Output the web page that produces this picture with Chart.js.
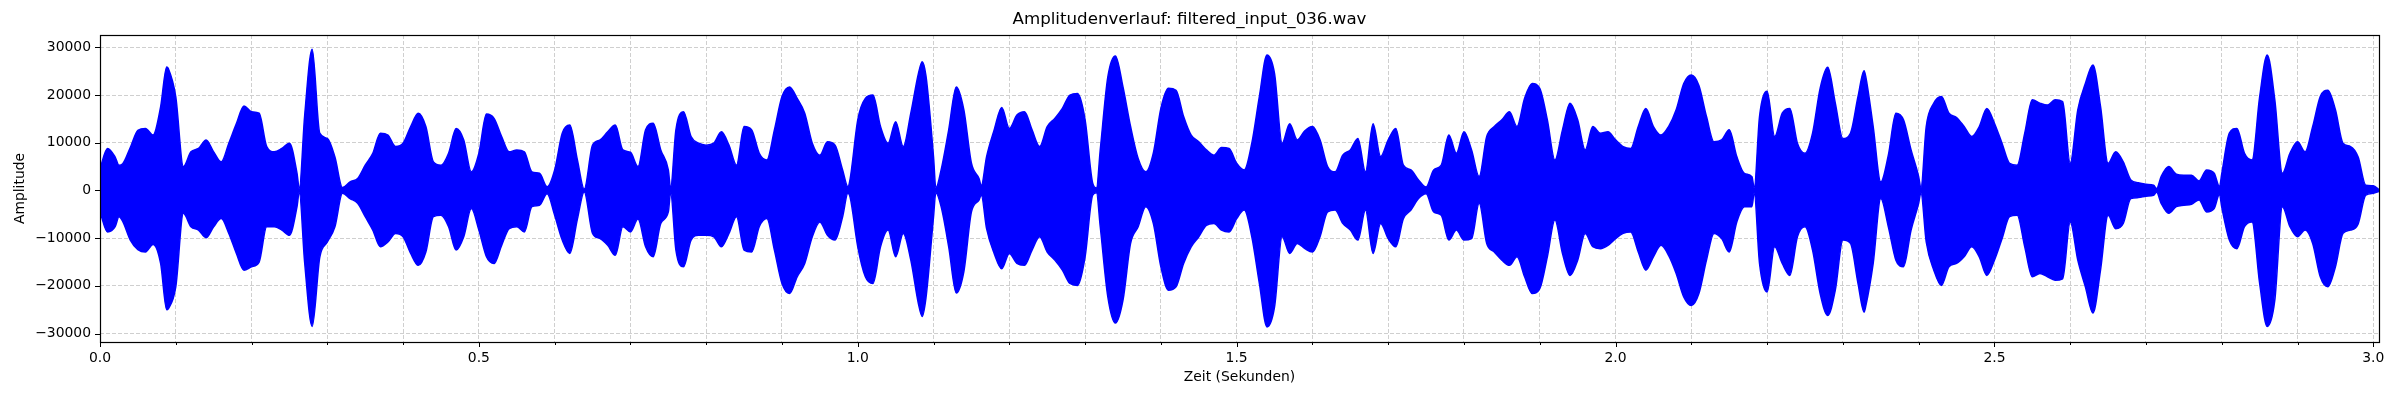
<!DOCTYPE html>
<html>

<head>
    <title>Amplitudenverlauf</title>
    <meta charset="utf-8">
    <script src="https://cdn.jsdelivr.net/npm/chart.js"></script>
    <style>
        html, body { margin: 0; padding: 0; background: #fff; }
        #wrap { width: 2400px; height: 400px; position: relative; }
    </style>
    <script>
        // Huellkurve (oberer und unterer Rand) des Signals
        var timeSec = [
            0, 0.01, 0.02, 0.025, 0.03, 0.04, 0.05, 0.06, 0.07, 0.08, 0.088, 0.09,
            0.10, 0.11, 0.12, 0.13, 0.14, 0.15, 0.16, 0.17, 0.18, 0.19,
            0.20, 0.21, 0.22, 0.23, 0.24, 0.25, 0.26, 0.263, 0.27, 0.28, 0.29,
            0.30, 0.31, 0.32, 0.33, 0.34, 0.35, 0.36, 0.37, 0.38, 0.39,
            0.40, 0.41, 0.42, 0.43, 0.44, 0.45, 0.46, 0.47, 0.48, 0.49,
            0.50, 0.51, 0.52, 0.53, 0.54, 0.55, 0.56, 0.57, 0.58, 0.59,
            0.60, 0.61, 0.62, 0.63, 0.639, 0.65, 0.66, 0.67, 0.68, 0.69,
            0.70, 0.71, 0.72, 0.73, 0.74, 0.75, 0.753, 0.76, 0.77, 0.78, 0.79,
            0.80, 0.81, 0.82, 0.83, 0.84, 0.85, 0.86, 0.87, 0.88, 0.89,
            0.90, 0.91, 0.92, 0.93, 0.94, 0.95, 0.96, 0.97, 0.98, 0.987, 0.99,
            1.00, 1.01, 1.02, 1.03, 1.04, 1.05, 1.06, 1.07, 1.08, 1.085, 1.09,
            1.10, 1.103, 1.11, 1.12, 1.13, 1.14, 1.15, 1.16, 1.163, 1.17, 1.18, 1.19,
            1.20, 1.21, 1.22, 1.23, 1.24, 1.25, 1.26, 1.27, 1.28, 1.29,
            1.30, 1.31, 1.315, 1.32, 1.33, 1.34, 1.35, 1.36, 1.37, 1.38, 1.39,
            1.40, 1.41, 1.42, 1.43, 1.44, 1.45, 1.46, 1.47, 1.48, 1.49,
            1.50, 1.51, 1.52, 1.53, 1.54, 1.55, 1.56, 1.57, 1.58, 1.59,
            1.60, 1.61, 1.62, 1.63, 1.64, 1.65, 1.66, 1.67, 1.68, 1.69,
            1.70, 1.71, 1.72, 1.73, 1.74, 1.75, 1.76, 1.77, 1.78, 1.79,
            1.80, 1.81, 1.82, 1.83, 1.84, 1.85, 1.86, 1.87, 1.88, 1.89,
            1.90, 1.91, 1.92, 1.93, 1.94, 1.95, 1.96, 1.97, 1.98, 1.99,
            2.00, 2.01, 2.02, 2.03, 2.04, 2.05, 2.06, 2.07, 2.08, 2.09,
            2.10, 2.11, 2.12, 2.13, 2.14, 2.15, 2.16, 2.17, 2.18, 2.183, 2.19,
            2.20, 2.21, 2.22, 2.23, 2.24, 2.25, 2.26, 2.27, 2.28, 2.29,
            2.30, 2.31, 2.32, 2.328, 2.33, 2.34, 2.35, 2.36, 2.37, 2.38, 2.39,
            2.40, 2.403, 2.41, 2.42, 2.43, 2.44, 2.45, 2.46, 2.47, 2.48, 2.49,
            2.50, 2.51, 2.52, 2.53, 2.54, 2.55, 2.56, 2.57, 2.58, 2.59,
            2.60, 2.61, 2.62, 2.63, 2.64, 2.65, 2.66, 2.67, 2.68, 2.69,
            2.70, 2.71, 2.714, 2.72, 2.73, 2.74, 2.75, 2.76, 2.77, 2.78, 2.79, 2.797,
            2.80, 2.81, 2.82, 2.83, 2.84, 2.85, 2.86, 2.87, 2.88, 2.89,
            2.90, 2.91, 2.92, 2.93, 2.94, 2.95, 2.96, 2.97, 2.98, 2.99, 3.00, 3.0075
        ];

        var upperEnv = [
            4600, 8800, 7000, 5300, 5600, 9000, 12600, 13000, 11600, 17500, 25900, 25600,
            19600, 5000, 8100, 8800, 10600, 8100, 6000, 9900, 14000, 17700,
            16500, 16200, 9200, 8100, 8800, 9900, 3600, 300, 15500, 29600, 12000,
            10900, 7000, 600, 1800, 2500, 5300, 7800, 12000, 11600, 9200,
            9900, 13400, 16200, 13400, 6000, 5300, 7800, 13000, 10600, 3900,
            7800, 16000, 15100, 11300, 8100, 8500, 8100, 3900, 3600, 800,
            4300, 12000, 13700, 6400, 300, 9500, 10600, 12300, 13700, 8500,
            8000, 5000, 12700, 14100, 8500, 4300, 500, 12700, 16500, 11300, 9900,
            9500, 9900, 12300, 9500, 5300, 13400, 12700, 7800, 6400, 12700,
            19700, 21700, 19300, 16200, 9900, 7400, 10200, 9500, 4300, 800, 2500,
            14800, 19300, 20000, 13400, 9900, 14400, 9200, 16200, 24500, 27000, 24000,
            7000, 500, 4300, 12700, 21700, 16900, 5700, 2500, 1000, 7100, 12700, 17400,
            13000, 15800, 16500, 12700, 9200, 13400, 15100, 17200, 20000, 20300,
            14800, 1500, 500, 8500, 23800, 28200, 21700, 13400, 6700, 3900, 7800,
            17200, 21400, 21000, 15500, 11600, 10200, 8500, 7400, 9000, 8800,
            5700, 4300, 9900, 19700, 28400, 24500, 9900, 14000, 10600, 12500,
            13400, 10600, 5000, 3900, 7400, 8500, 10900, 3900, 14000, 7100,
            10600, 13000, 5300, 4300, 2200, 700, 4300, 5300, 11600, 7800,
            12300, 8500, 2900, 11300, 13400, 14800, 16500, 13400, 19300, 22400,
            21400, 14800, 6400, 12700, 18300, 14800, 8500, 13400, 12000, 12300,
            10600, 9200, 8800, 13400, 17200, 13400, 11600, 13400, 16900, 22400,
            24200, 22000, 15500, 10200, 10600, 12700, 7100, 3600, 2900, 500, 15500,
            20800, 11300, 16200, 17200, 9900, 7800, 12000, 21400, 25800, 18300,
            10900, 12000, 19700, 25100, 24000, 13400, 1800, 7400, 16200, 14800, 8500,
            2900, 500, 13400, 18300, 19700, 16200, 15300, 13400, 11300, 13400, 17200,
            14100, 9900, 5700, 5300, 12000, 19000, 18300, 17900, 19000, 18600,
            5700, 16900, 22400, 26300, 17600, 5700, 8100, 6000, 2200, 1600,
            1300, 1100, 400, 2900, 5000, 3400, 3200, 3200, 2000, 4300, 3600, 800,
            3500, 12000, 13000, 7800, 6400, 19600, 28400, 19000, 3600, 7800,
            10200, 8100, 13400, 19700, 21000, 16900, 9900, 9200, 7000, 1100, 1000, 200
        ];

        var lowerEnv = [
            -4500, -8700, -7600, -5500, -6500, -10400, -12400, -12900, -11300, -15300, -25000, -24800,
            -20200, -4800, -7600, -8300, -9900, -7600, -5900, -9000, -13200, -16700,
            -16000, -15000, -7600, -7600, -8300, -9400, -3400, -300, -15000, -28500, -14000,
            -10800, -7600, -600, -1700, -2700, -5500, -8300, -11800, -10800, -9000,
            -9700, -13200, -15700, -12900, -5500, -5200, -7600, -12500, -9700, -3800,
            -8300, -13900, -15300, -11500, -8000, -7600, -8700, -3400, -3100, -700,
            -5200, -10400, -13200, -6000, -300, -9000, -10100, -11500, -13600, -7600,
            -8700, -6000, -11800, -13900, -6900, -4500, -500, -12500, -16000, -10400, -9400,
            -9400, -9700, -11800, -9000, -5500, -12500, -12900, -7600, -5900, -12500,
            -19500, -21600, -18100, -15300, -9700, -6600, -9400, -10400, -5500, -600, -1500,
            -11800, -18100, -19500, -11800, -8300, -13900, -9000, -14600, -23700, -26400, -22500,
            -5500, -500, -3400, -11800, -21500, -17000, -4500, -2000, -1000, -8000, -13200, -16400,
            -13200, -15300, -15700, -12500, -9700, -12900, -14600, -16700, -19500, -19900,
            -13900, -1000, -500, -7600, -22300, -27800, -23000, -11100, -7600, -3400, -6900,
            -16000, -20900, -20200, -15300, -11800, -9700, -7300, -6900, -8300, -8700,
            -5900, -4100, -9700, -19500, -28600, -24400, -9700, -13200, -11100, -12200,
            -12900, -9700, -4500, -4100, -6900, -8300, -10400, -4100, -13200, -6900,
            -10100, -11800, -5900, -4100, -1700, -700, -4500, -5200, -10400, -8300,
            -10400, -10100, -2700, -11100, -12900, -14600, -15700, -13900, -18100, -21600,
            -20600, -13900, -6200, -13200, -17800, -14600, -9000, -11800, -12200, -11500,
            -10100, -9000, -8700, -12900, -16700, -13900, -11500, -13600, -17400, -22300,
            -24100, -21600, -14600, -9000, -10100, -12900, -6600, -3400, -3400, -500, -15300,
            -21300, -11800, -15300, -17800, -9700, -7600, -12500, -21600, -26200, -20900,
            -10400, -11100, -19500, -25500, -24400, -15300, -1700, -7600, -14600, -16000, -8300,
            -2700, -500, -10800, -16700, -19900, -16000, -15300, -13900, -11800, -13900, -17800,
            -14600, -10100, -5500, -5200, -11800, -18100, -17400, -18100, -18800, -18500,
            -6600, -14600, -20200, -25700, -16700, -5200, -8000, -6900, -1700, -1500,
            -1200, -1000, -400, -2700, -4800, -3400, -3100, -2900, -2000, -4500, -3800, -800,
            -3500, -10400, -12200, -7600, -6600, -19500, -28500, -23000, -3400, -7600,
            -9700, -8300, -11100, -18100, -20200, -16000, -9000, -8300, -7000, -1000, -600, -200
        ];

        // Achsen
        var xLimits = [0, 3.0075];
        var yLimits = [-31760, 32580];
        var xTicks = [0, 0.1, 0.2, 0.3, 0.4, 0.5, 0.6, 0.7, 0.8, 0.9, 1.0, 1.1, 1.2, 1.3, 1.4, 1.5,
            1.6, 1.7, 1.8, 1.9, 2.0, 2.1, 2.2, 2.3, 2.4, 2.5, 2.6, 2.7, 2.8, 2.9, 3.0];
        var xTickLabels = ["0.0", "0.5", "1.0", "1.5", "2.0", "2.5", "3.0"];
        var yTicks = [-30000, -20000, -10000, 0, 10000, 20000, 30000];

        var chartTitle = "Amplitudenverlauf: filtered_input_036.wav";
        var xTitle = "Zeit (Sekunden)";
        var yTitle = "Amplitude";

        function xLabelFor(v) {
            var s = v.toFixed(1);
            return xTickLabels.indexOf(s) >= 0 ? s : '';
        }

        // Rahmen und Tick-Striche wie bei matplotlib
        var framePlugin = {
            id: 'frame',
            afterDraw: function(chart) {
                var ctx = chart.ctx;
                var a = chart.chartArea;
                var xs = chart.scales.x;
                var ys = chart.scales.y;
                ctx.save();
                ctx.strokeStyle = '#000';
                ctx.lineWidth = 1;
                ctx.beginPath();
                xs.ticks.forEach(function(t) {
                    var px = Math.round(xs.getPixelForValue(t.value)) + 0.5;
                    var len = xLabelFor(t.value) ? 5 : 3;
                    ctx.moveTo(px, a.bottom);
                    ctx.lineTo(px, a.bottom + len);
                });
                ys.ticks.forEach(function(t) {
                    var py = Math.round(ys.getPixelForValue(t.value)) + 0.5;
                    ctx.moveTo(a.left, py);
                    ctx.lineTo(a.left - 5, py);
                });
                ctx.stroke();
                ctx.lineWidth = 1.2;
                ctx.strokeRect(Math.round(a.left) + 0.5, Math.round(a.top) + 0.5,
                    Math.round(a.right - a.left), Math.round(a.bottom - a.top));
                ctx.restore();
            }
        };

        function LoadChart() {
            Chart.defaults.font.family = "'DejaVu Sans', sans-serif";
            Chart.defaults.font.size = 13.9;
            Chart.defaults.color = '#000';

            var upperPts = timeSec.map(function(t, i) { return {x: t, y: upperEnv[i]}; });
            var lowerPts = timeSec.map(function(t, i) { return {x: t, y: lowerEnv[i]}; });

            var ctx = document.getElementById("myChart");
            return new Chart(ctx, {
                type: 'line',
                data: {
                    datasets: [{
                        label: 'oben',
                        data: upperPts,
                        borderColor: '#0000ff',
                        backgroundColor: '#0000ff',
                        borderWidth: 1.5,
                        pointRadius: 0,
                        cubicInterpolationMode: 'monotone',
                        fill: '+1'
                    }, {
                        label: 'unten',
                        data: lowerPts,
                        borderColor: '#0000ff',
                        backgroundColor: '#0000ff',
                        borderWidth: 1.5,
                        pointRadius: 0,
                        cubicInterpolationMode: 'monotone',
                        fill: false
                    }]
                },
                options: {
                    responsive: true,
                    maintainAspectRatio: false,
                    devicePixelRatio: 1,
                    animation: false,
                    layout: {
                        autoPadding: false,
                        padding: {left: 0, right: 21, top: 0, bottom: 0}
                    },
                    plugins: {
                        legend: {display: false},
                        tooltip: {enabled: false},
                        title: {
                            display: true,
                            text: chartTitle,
                            color: '#000',
                            font: {size: 16.67, weight: 'normal', lineHeight: 1.2},
                            padding: {top: 10, bottom: 5}
                        }
                    },
                    scales: {
                        x: {
                            type: 'linear',
                            min: xLimits[0],
                            max: xLimits[1],
                            afterFit: function(s) { s.height = 58; },
                            afterBuildTicks: function(s) {
                                s.ticks = xTicks.map(function(v) { return {value: v}; });
                            },
                            ticks: {
                                autoSkip: false,
                                maxRotation: 0,
                                padding: 8,
                                callback: function(v) { return xLabelFor(v); }
                            },
                            grid: {
                                color: '#cfcfcf',
                                lineWidth: 1,
                                drawTicks: false
                            },
                            border: {display: false, dash: [4, 2]},
                            title: {
                                display: true,
                                text: xTitle,
                                padding: {top: 0, bottom: 14}
                            }
                        },
                        y: {
                            min: yLimits[0],
                            max: yLimits[1],
                            afterFit: function(s) { s.width = 100; },
                            afterBuildTicks: function(s) {
                                s.ticks = yTicks.map(function(v) { return {value: v}; });
                            },
                            ticks: {
                                autoSkip: false,
                                padding: 9,
                                callback: function(v) {
                                    return v < 0 ? '\u2212' + Math.abs(v) : String(v);
                                }
                            },
                            grid: {
                                color: '#cfcfcf',
                                lineWidth: 1,
                                drawTicks: false
                            },
                            border: {display: false, dash: [4, 2]},
                            title: {
                                display: true,
                                text: yTitle,
                                padding: {top: 12, bottom: 0}
                            }
                        }
                    }
                },
                plugins: [framePlugin]
            });
        }
    </script>
</head>

<body>
    <div id="wrap"><canvas id="myChart"></canvas></div>
    <script>
        var chart = LoadChart();
    </script>
</body>

</html>
